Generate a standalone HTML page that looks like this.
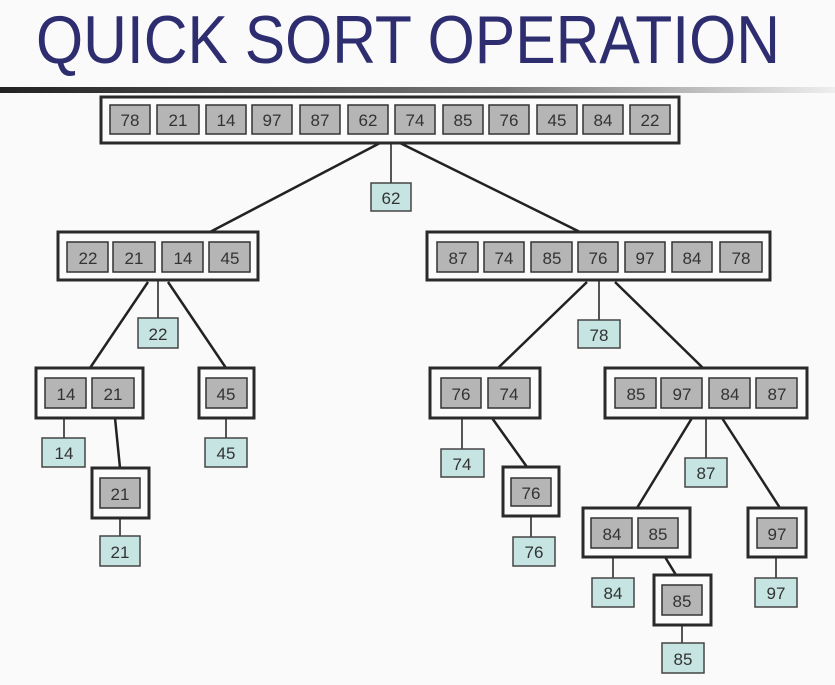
<!DOCTYPE html>
<html><head><meta charset="utf-8"><style>
html,body{margin:0;padding:0;background:#fafafa;}
svg{display:block;}
text{font-family:"Liberation Sans",sans-serif;}
.c{fill:#b5b5b5;stroke:#333;stroke-width:1.5;}
.l{fill:#c6e4e2;stroke:#444;stroke-width:1.5;}
.o{fill:#fbfbfb;stroke:#2a2a2a;stroke-width:3;}
.t{font-size:17px;fill:#333;text-anchor:middle;}
.ln{stroke:#222;stroke-width:2.5;}
.vl{stroke:#555;stroke-width:2;}
</style></head><body>
<svg width="835" height="685" viewBox="0 0 835 685" xmlns="http://www.w3.org/2000/svg">
<defs><linearGradient id="g" x1="0" x2="1"><stop offset="0" stop-color="#222"/><stop offset="0.6" stop-color="#777"/><stop offset="1" stop-color="#eee"/></linearGradient></defs>
<rect width="835" height="685" fill="#fafafa"/>
<text x="36" y="63" font-size="68" fill="#2d2d70" textLength="744" lengthAdjust="spacingAndGlyphs">QUICK SORT OPERATION</text>
<rect x="0" y="87" width="835" height="6" fill="url(#g)"/>

<!-- connectors -->
<line class="ln" x1="380" y1="143" x2="210" y2="232"/>
<line class="ln" x1="400" y1="143" x2="580" y2="232"/>
<line class="vl" x1="391" y1="143" x2="391" y2="183"/>
<line class="vl" x1="158" y1="280" x2="158" y2="318"/>
<line class="ln" x1="148" y1="282" x2="90" y2="368"/>
<line class="ln" x1="168" y1="282" x2="226" y2="368"/>
<line class="vl" x1="64" y1="418" x2="64" y2="438"/>
<line class="ln" x1="115" y1="418" x2="120" y2="468"/>
<line class="vl" x1="120" y1="518" x2="120" y2="536"/>
<line class="vl" x1="226" y1="418" x2="226" y2="438"/>
<line class="vl" x1="599" y1="280" x2="599" y2="320"/>
<line class="ln" x1="587" y1="282" x2="498" y2="368"/>
<line class="ln" x1="615" y1="282" x2="703" y2="368"/>
<line class="vl" x1="462" y1="418" x2="462" y2="449"/>
<line class="ln" x1="492" y1="418" x2="527" y2="467"/>
<line class="vl" x1="531" y1="516" x2="531" y2="537"/>
<line class="ln" x1="692" y1="418" x2="637" y2="508"/>
<line class="vl" x1="706" y1="418" x2="706" y2="458"/>
<line class="ln" x1="722" y1="418" x2="780" y2="508"/>
<line class="vl" x1="613" y1="557" x2="613" y2="578"/>
<line class="ln" x1="665" y1="557" x2="676" y2="575"/>
<line class="vl" x1="682" y1="625" x2="682" y2="643"/>
<line class="vl" x1="776" y1="557" x2="776" y2="578"/>

<!-- top array -->
<rect class="o" x="101" y="97" width="578" height="46"/>
<g>
<rect class="c" x="110" y="105" width="40" height="29"/><text class="t" x="130" y="126">78</text>
<rect class="c" x="157" y="105" width="42" height="29"/><text class="t" x="178" y="126">21</text>
<rect class="c" x="206" y="105" width="40" height="29"/><text class="t" x="226" y="126">14</text>
<rect class="c" x="252" y="105" width="40" height="29"/><text class="t" x="272" y="126">97</text>
<rect class="c" x="300" y="105" width="40" height="29"/><text class="t" x="320" y="126">87</text>
<rect class="c" x="348" y="105" width="40" height="29"/><text class="t" x="368" y="126">62</text>
<rect class="c" x="395" y="105" width="40" height="29"/><text class="t" x="415" y="126">74</text>
<rect class="c" x="443" y="105" width="40" height="29"/><text class="t" x="463" y="126">85</text>
<rect class="c" x="489" y="105" width="40" height="29"/><text class="t" x="509" y="126">76</text>
<rect class="c" x="537" y="105" width="40" height="29"/><text class="t" x="557" y="126">45</text>
<rect class="c" x="583" y="105" width="40" height="29"/><text class="t" x="603" y="126">84</text>
<rect class="c" x="630" y="105" width="40" height="29"/><text class="t" x="650" y="126">22</text>
</g>
<rect class="l" x="371" y="183" width="40" height="28"/><text class="t" x="391" y="204">62</text>

<!-- left L1 -->
<rect class="o" x="58" y="232" width="200" height="48"/>
<rect class="c" x="67" y="242" width="41" height="30"/><text class="t" x="88" y="264">22</text>
<rect class="c" x="113" y="242" width="42" height="30"/><text class="t" x="134" y="264">21</text>
<rect class="c" x="162" y="242" width="41" height="30"/><text class="t" x="183" y="264">14</text>
<rect class="c" x="209" y="242" width="41" height="30"/><text class="t" x="230" y="264">45</text>
<rect class="l" x="138" y="318" width="40" height="30"/><text class="t" x="158" y="340">22</text>

<rect class="o" x="36" y="368" width="107" height="50"/>
<rect class="c" x="45" y="378" width="41" height="30"/><text class="t" x="66" y="400">14</text>
<rect class="c" x="92" y="378" width="42" height="30"/><text class="t" x="113" y="400">21</text>
<rect class="o" x="199" y="368" width="55" height="50"/>
<rect class="c" x="206" y="378" width="41" height="30"/><text class="t" x="226" y="400">45</text>
<rect class="l" x="42" y="438" width="43" height="29"/><text class="t" x="64" y="459">14</text>
<rect class="l" x="205" y="438" width="42" height="29"/><text class="t" x="226" y="459">45</text>
<rect class="o" x="92" y="468" width="57" height="50"/>
<rect class="c" x="100" y="478" width="40" height="30"/><text class="t" x="120" y="500">21</text>
<rect class="l" x="100" y="536" width="40" height="30"/><text class="t" x="120" y="558">21</text>

<!-- right R1 -->
<rect class="o" x="427" y="232" width="343" height="48"/>
<rect class="c" x="437" y="242" width="41" height="30"/><text class="t" x="458" y="264">87</text>
<rect class="c" x="484" y="242" width="40" height="30"/><text class="t" x="504" y="264">74</text>
<rect class="c" x="531" y="242" width="41" height="30"/><text class="t" x="552" y="264">85</text>
<rect class="c" x="578" y="242" width="40" height="30"/><text class="t" x="598" y="264">76</text>
<rect class="c" x="625" y="242" width="40" height="30"/><text class="t" x="645" y="264">97</text>
<rect class="c" x="672" y="242" width="40" height="30"/><text class="t" x="692" y="264">84</text>
<rect class="c" x="720" y="242" width="42" height="30"/><text class="t" x="741" y="264">78</text>
<rect class="l" x="578" y="320" width="42" height="28"/><text class="t" x="599" y="341">78</text>

<rect class="o" x="430" y="368" width="110" height="50"/>
<rect class="c" x="441" y="378" width="40" height="30"/><text class="t" x="461" y="400">76</text>
<rect class="c" x="488" y="378" width="42" height="30"/><text class="t" x="509" y="400">74</text>
<rect class="o" x="605" y="368" width="202" height="50"/>
<rect class="c" x="615" y="378" width="41" height="30"/><text class="t" x="636" y="400">85</text>
<rect class="c" x="661" y="378" width="41" height="30"/><text class="t" x="682" y="400">97</text>
<rect class="c" x="709" y="378" width="41" height="30"/><text class="t" x="730" y="400">84</text>
<rect class="c" x="756" y="378" width="41" height="30"/><text class="t" x="777" y="400">87</text>

<rect class="l" x="441" y="449" width="43" height="28"/><text class="t" x="462" y="470">74</text>
<rect class="o" x="503" y="467" width="56" height="49"/>
<rect class="c" x="511" y="478" width="40" height="28"/><text class="t" x="531" y="499">76</text>
<rect class="l" x="513" y="537" width="42" height="29"/><text class="t" x="534" y="558">76</text>
<rect class="l" x="685" y="458" width="42" height="29"/><text class="t" x="706" y="479">87</text>

<rect class="o" x="583" y="508" width="107" height="49"/>
<rect class="c" x="591" y="518" width="41" height="30"/><text class="t" x="612" y="540">84</text>
<rect class="c" x="638" y="518" width="40" height="30"/><text class="t" x="658" y="540">85</text>
<rect class="o" x="748" y="508" width="58" height="49"/>
<rect class="c" x="757" y="518" width="40" height="30"/><text class="t" x="777" y="540">97</text>
<rect class="l" x="592" y="578" width="42" height="29"/><text class="t" x="613" y="599">84</text>
<rect class="l" x="755" y="578" width="42" height="29"/><text class="t" x="776" y="599">97</text>
<rect class="o" x="654" y="575" width="57" height="50"/>
<rect class="c" x="662" y="585" width="40" height="30"/><text class="t" x="682" y="607">85</text>
<rect class="l" x="662" y="643" width="42" height="30"/><text class="t" x="683" y="665">85</text>
</svg>
</body></html>
